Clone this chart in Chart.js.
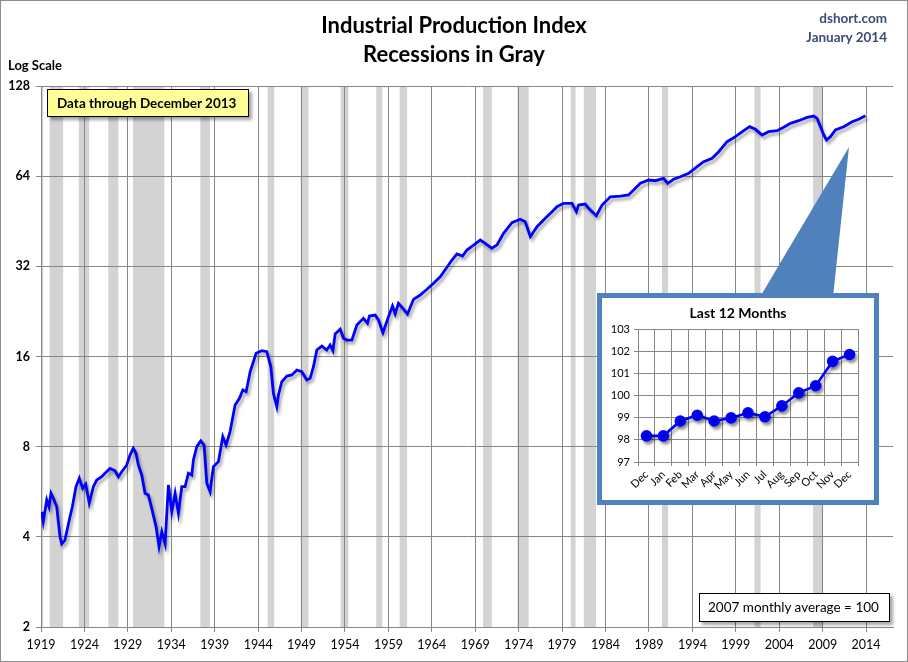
<!DOCTYPE html>
<html>
<head>
<meta charset="utf-8">
<script src="https://cdn.jsdelivr.net/npm/chart.js@4/dist/chart.umd.min.js"></script>
<style>
  html, body { margin: 0; padding: 0; background: #fff; }
  #wrap { position: relative; width: 908px; height: 662px; overflow: hidden; font-family: Lato, "Open Sans", sans-serif; }
  #main { position: absolute; left: 0; top: 0; }
  .abs { position: absolute; white-space: nowrap; }
  #t1 { left: 0; width: 908px; text-align: center; top: 11px; font-size: 22px; font-weight: bold; color: #000; }
  #t2 { left: 0; width: 908px; text-align: center; top: 40px; font-size: 22px; font-weight: bold; color: #000; }
  #src1 { right: 21px; top: 10px; font-size: 13.5px; font-weight: bold; color: #3d4b78; }
  #src2 { right: 21px; top: 29px; font-size: 13.5px; font-weight: bold; color: #3d4b78; }
  #logl { left: 8px; top: 57px; font-size: 13px; font-weight: bold; color: #000; }
  #databox { left: 47px; top: 89px; width: 202px; height: 28px; box-sizing: border-box; background: #ffff99; border: 1px solid #000; box-shadow: 3px 3px 3px rgba(0,0,0,0.35); font-size: 13.5px; font-weight: bold; line-height: 26px; padding-left: 9px; }
  #avgbox { left: 699px; top: 593px; width: 191px; height: 29px; box-sizing: border-box; background: #fff; border: 1px solid #000; box-shadow: 3px 3px 3px rgba(0,0,0,0.35); font-size: 13.5px; line-height: 27px; padding-left: 8px; }
  #tri { position: absolute; left: 0; top: 0; }
  #inset { left: 597px; top: 293px; width: 282px; height: 212px; box-sizing: border-box; border: 5px solid #4f81bd; background: #fff; }
  #insetCanvas { position: absolute; left: 0; top: 0; }
  #insetTitle { left: 0; width: 272px; text-align: center; top: 6px; font-size: 14px; font-weight: bold; color: #000; }
</style>
</head>
<body>
<div id="wrap">
  <canvas id="main" width="908" height="662"></canvas>
  <div class="abs" id="t1">Industrial Production Index</div>
  <div class="abs" id="t2">Recessions in Gray</div>
  <div class="abs" id="src1">dshort.com</div>
  <div class="abs" id="src2">January 2014</div>
  <div class="abs" id="logl">Log Scale</div>
  <div class="abs" id="databox">Data through December 2013</div>
  <svg id="tri" width="908" height="662"><polygon points="849,147 760,297 833,297" fill="#4f81bd"/></svg>
  <div class="abs" id="inset">
    <canvas id="insetCanvas" width="272" height="202"></canvas>
    <div class="abs" id="insetTitle">Last 12 Months</div>
  </div>
  <div class="abs" id="avgbox">2007 monthly average = 100</div>
</div>
<script>
// ---------- Data ----------
const years = [1919.08,1919.26,1919.66,1919.92,1920.15,1920.42,1920.81,1921.19,1921.38,1921.76,
1921.96,1922.34,1922.61,1923.03,1923.41,1923.80,1924.15,1924.56,1925.03,1925.42,
1925.99,1926.37,1926.95,1927.53,1927.91,1928.30,1928.87,1929.25,1929.63,1929.94,
1930.21,1930.60,1930.98,1931.36,1931.75,1932.25,1932.59,1932.91,1933.29,1933.67,
1934.06,1934.44,1934.82,1935.21,1935.59,1935.97,1936.36,1936.55,1936.94,1937.40,
1937.78,1938.09,1938.47,1938.85,1939.43,1939.93,1940.31,1940.77,1941.35,1941.85,
1942.24,1942.62,1943.08,1943.77,1944.43,1945.00,1945.46,1945.76,1946.15,1946.34,
1946.73,1947.31,1947.88,1948.46,1949.03,1949.61,1949.99,1950.37,1950.76,1951.34,
1951.91,1952.29,1952.61,1952.87,1953.45,1953.83,1954.22,1954.80,1955.37,1956.13,
1956.59,1956.82,1957.48,1957.86,1958.37,1959.01,1959.47,1959.78,1960.16,1960.67,
1961.20,1961.89,1962.66,1963.44,1964.20,1964.97,1965.74,1966.32,1966.89,1967.54,
1968.04,1968.81,1969.58,1970.15,1970.92,1971.50,1972.26,1973.23,1974.18,1974.76,
1975.34,1976.11,1977.06,1977.84,1978.41,1979.17,1980.14,1980.64,1980.90,1981.67,
1982.05,1982.94,1983.60,1984.55,1985.71,1986.66,1988.01,1988.97,1989.74,1990.69,
1991.15,1991.84,1992.62,1993.57,1994.54,1995.30,1996.27,1997.03,1998.00,1998.96,
1999.91,2000.60,2001.26,2002.03,2002.79,2003.76,2004.52,2005.29,2006.25,2007.21,
2007.97,2008.36,2008.75,2009.13,2009.44,2009.90,2010.47,2011.43,2012.40,2013.15,
2013.92];
const ipIndex = [4.85,4.49,5.31,5.04,5.59,5.38,5.04,4.00,3.79,3.90,
4.16,4.67,5.04,5.88,6.27,5.81,6.00,5.18,5.88,6.19,
6.35,6.52,6.77,6.65,6.35,6.60,6.95,7.50,7.90,7.60,
6.95,6.43,5.59,5.52,4.98,4.32,3.71,4.16,3.79,5.96,
4.85,5.59,4.79,5.88,5.88,6.52,6.43,7.22,8.00,8.36,
8.10,6.04,5.66,6.86,7.13,8.64,8.10,8.98,11.02,11.60,
12.37,12.21,14.23,16.40,16.73,16.60,14.79,12.06,10.88,11.90,
13.18,13.77,13.88,14.42,14.23,13.36,13.53,14.79,16.82,17.34,
16.82,17.48,16.73,19.02,19.72,18.40,18.16,18.16,20.38,21.46,
20.65,21.84,22.01,21.18,19.21,21.72,23.59,22.18,24.08,23.17,
22.18,24.83,25.67,26.82,28.08,29.54,31.76,33.60,35.18,34.64,
36.28,37.70,39.17,38.20,36.76,37.70,41.25,44.75,45.93,45.09,
40.18,43.39,46.29,48.70,50.61,51.95,51.95,48.70,51.27,51.66,
49.98,47.22,51.27,54.64,54.94,55.37,60.58,62.14,61.80,62.95,
60.58,62.47,63.73,65.42,68.82,71.52,73.42,77.24,83.42,86.69,
90.78,93.61,91.75,87.83,90.08,90.78,93.17,96.08,98.03,100.6,
101.6,99.85,93.61,87.83,84.51,86.69,91.26,93.61,97.27,99.08,
101.8];
const recessionStarts = [1918.6,1920.0,1923.35,1926.75,1929.6,1937.35,1945.1,1948.9,1953.5,1957.6,1960.3,1969.9,1973.85,1980.0,1981.5,1990.5,2001.15,2007.9];
const recessionEnds   = [1919.25,1921.55,1924.55,1927.9,1933.2,1938.45,1945.85,1949.8,1954.4,1958.3,1961.15,1970.9,1975.15,1980.55,1982.9,1991.2,2001.85,2009.05];
const xTickYears = [1919,1924,1929,1934,1939,1944,1949,1954,1959,1964,1969,1974,1979,1984,1989,1994,1999,2004,2009,2014];
const yTickValues = [2,4,8,16,32,64,128];

const lastMonths = ['Dec','Jan','Feb','Mar','Apr','May','Jun','Jul','Aug','Sep','Oct','Nov','Dec'];
const lastValues = [98.18,98.18,98.85,99.11,98.85,98.99,99.22,99.04,99.53,100.12,100.44,101.54,101.85];

// ---------- Plugins ----------
const recessionPlugin = {
  id: 'recessions',
  beforeDraw(chart) {
    const ctx = chart.ctx, xs = chart.scales.x, a = chart.chartArea;
    ctx.save();
    ctx.fillStyle = '#d3d3d3';
    for (let i = 0; i < recessionStarts.length; i++) {
      let x1 = Math.max(xs.getPixelForValue(recessionStarts[i]), a.left);
      let x2 = Math.min(xs.getPixelForValue(recessionEnds[i]), a.right);
      if (x2 > x1) ctx.fillRect(x1, a.top, x2 - x1, a.bottom - a.top);
    }
    ctx.restore();
  },
  afterDraw(chart) {
    const ctx = chart.ctx;
    ctx.save();
    ctx.strokeStyle = '#8c8c8c';
    ctx.lineWidth = 1;
    ctx.strokeRect(0.5, 0.5, chart.width - 1, chart.height - 1);
    ctx.restore();
  }
};
const shadowPlugin = {
  id: 'lineShadow',
  beforeDatasetDraw(chart) {
    const ctx = chart.ctx;
    ctx.save();
    ctx.shadowColor = 'rgba(0,0,0,0.35)';
    ctx.shadowBlur = 3;
    ctx.shadowOffsetX = 2;
    ctx.shadowOffsetY = 3;
  },
  afterDatasetDraw(chart) { chart.ctx.restore(); }
};

const FONT = 'Lato, "Open Sans", sans-serif';
const gridColor = '#868686';

new Chart(document.getElementById('main'), {
  type: 'line',
  data: {
    datasets: [{
      data: years.map((y, i) => ({ x: y, y: ipIndex[i] })),
      borderColor: '#0000ff',
      borderWidth: 2.8,
      pointRadius: 0,
      tension: 0,
      fill: false
    }]
  },
  plugins: [recessionPlugin, shadowPlugin],
  options: {
    responsive: false,
    animation: false,
    devicePixelRatio: 1,
    layout: { padding: { top: 86, right: 15, left: 0, bottom: 0 } },
    plugins: { legend: { display: false }, tooltip: { enabled: false } },
    scales: {
      x: {
        type: 'linear',
        min: 1919,
        max: 2017.1,
        afterBuildTicks: s => { s.ticks = xTickYears.map(v => ({ value: v })); },
        afterFit: s => { s.height = 35; },
        ticks: { autoSkip: false, maxRotation: 0, color: '#000', padding: 5, font: { family: FONT, size: 12.5 }, callback: v => String(v) },
        grid: { color: gridColor, lineWidth: 1, tickLength: 5 },
        border: { color: gridColor }
      },
      y: {
        type: 'logarithmic',
        min: 2,
        max: 128,
        afterBuildTicks: s => { s.ticks = yTickValues.map(v => ({ value: v })); },
        afterFit: s => { s.width = 41; },
        ticks: { autoSkip: false, color: '#000', padding: 6, font: { family: FONT, size: 12.5, weight: 'bold' }, callback: v => String(v) },
        grid: { color: gridColor, lineWidth: 1, tickLength: 5 },
        border: { color: gridColor }
      }
    }
  }
});

new Chart(document.getElementById('insetCanvas'), {
  type: 'line',
  data: {
    labels: lastMonths,
    datasets: [{
      data: lastValues,
      borderColor: '#0000ff',
      backgroundColor: '#0000ff',
      borderWidth: 2.6,
      pointRadius: 4.5,
      pointBackgroundColor: '#0000ff',
      pointBorderColor: '#0000ff',
      tension: 0,
      fill: false
    }]
  },
  plugins: [shadowPlugin],
  options: {
    responsive: false,
    animation: false,
    devicePixelRatio: 1,
    layout: { padding: { top: 31, right: 16, left: 0, bottom: 0 } },
    plugins: { legend: { display: false }, tooltip: { enabled: false } },
    scales: {
      x: {
        type: 'category',
        offset: true,
        afterFit: s => { s.height = 38; },
        ticks: { autoSkip: false, minRotation: 45, maxRotation: 45, color: '#000', padding: 2, font: { family: FONT, size: 11 } },
        grid: { offset: true, color: gridColor, tickLength: 4 },
        border: { color: gridColor }
      },
      y: {
        min: 97,
        max: 103,
        afterFit: s => { s.width = 36; },
        ticks: { stepSize: 1, color: '#000', padding: 4, font: { family: FONT, size: 11 } },
        grid: { color: gridColor, tickLength: 4 },
        border: { color: gridColor }
      }
    }
  }
});
</script>
</body>
</html>
